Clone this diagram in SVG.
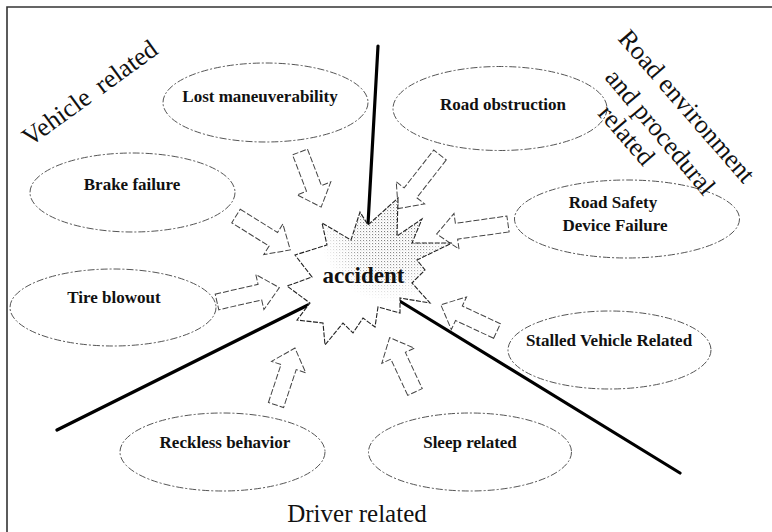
<svg xmlns="http://www.w3.org/2000/svg" width="772" height="532" viewBox="0 0 772 532">
<defs>
<radialGradient id="fade" gradientUnits="userSpaceOnUse" cx="390" cy="232" r="70">
<stop offset="0" stop-color="#fff" stop-opacity="1"/>
<stop offset="0.55" stop-color="#fff" stop-opacity="0.75"/>
<stop offset="1" stop-color="#fff" stop-opacity="0"/>
</radialGradient>
<pattern id="dots" width="3" height="3" patternUnits="userSpaceOnUse">
<rect x="0" y="0" width="1.1" height="1.1" fill="#777"/>
<rect x="1.5" y="1.5" width="0.8" height="0.8" fill="#aaa"/>
</pattern>
<mask id="stipmask" maskUnits="userSpaceOnUse" x="280" y="190" width="180" height="160">
<rect x="280" y="190" width="180" height="160" fill="url(#fade)"/>
</mask>
<style>
.ell{fill:#fff;stroke:#555;stroke-width:1;stroke-dasharray:7 2 2 2}
.arr{fill:#fff;stroke:#444;stroke-width:1;stroke-dasharray:6 2}
.lbl{font-family:"Liberation Serif","Times New Roman",serif;font-size:17px;font-weight:bold;fill:#111;text-anchor:middle}
.cat{font-family:"Liberation Serif","Times New Roman",serif;font-size:25px;fill:#111}
.thick{stroke:#000;stroke-width:3.2;stroke-linecap:round;fill:none}
</style>
</defs>
<rect width="772" height="532" fill="#fff"/>
<path d="M7,532 V7 H772" fill="none" stroke="#333" stroke-width="1.6"/>

<g id="connectors">
<line class="thick" x1="378" y1="46" x2="368" y2="224"/>
<line class="thick" x1="57" y1="430" x2="308" y2="305"/>
<line class="thick" x1="398" y1="300" x2="680" y2="473"/>
<g transform="translate(300,152) rotate(69)"><polygon class="arr" points="0,-8 39,-8 39,-18 59,0 39,18 39,8 0,8"/></g>
<g transform="translate(236,216) rotate(32)"><polygon class="arr" points="0,-8 44,-8 44,-18 64,0 44,18 44,8 0,8"/></g>
<g transform="translate(440,155) rotate(128)"><polygon class="arr" points="0,-8 48,-8 48,-18 68,0 48,18 48,8 0,8"/></g>
<g transform="translate(508,224) rotate(172)"><polygon class="arr" points="0,-8 52,-8 52,-18 72,0 52,18 52,8 0,8"/></g>
<g transform="translate(217,302) rotate(-13)"><polygon class="arr" points="0,-8 44,-8 44,-18 64,0 44,18 44,8 0,8"/></g>
<g transform="translate(497,331) rotate(205)"><polygon class="arr" points="0,-8 42,-8 42,-18 62,0 42,18 42,8 0,8"/></g>
<g transform="translate(276,405) rotate(-71.6)"><polygon class="arr" points="0,-8 40,-8 40,-18 60,0 40,18 40,8 0,8"/></g>
<g transform="translate(415,392) rotate(-115)"><polygon class="arr" points="0,-8 40,-8 40,-18 60,0 40,18 40,8 0,8"/></g>
</g>

<g id="accident">
<polygon points="398,198 397,236 422,219 412,243 452,243 417,260 425,270 412,283 430,303 400,298 400,313 378,307 375,327 363,318 353,333 343,323 325,345 323,323 297,320 310,303 287,286 312,277 295,255 327,245 322,223 351,240 360,212 368,225" fill="#fff"/>
<polygon points="398,198 397,236 422,219 412,243 452,243 417,260 425,270 412,283 430,303 400,298 400,313 378,307 375,327 363,318 353,333 343,323 325,345 323,323 297,320 310,303 287,286 312,277 295,255 327,245 322,223 351,240 360,212 368,225" fill="url(#dots)" mask="url(#stipmask)"/>
<polygon points="398,198 397,236 422,219 412,243 452,243 417,260 425,270 412,283 430,303 400,298 400,313 378,307 375,327 363,318 353,333 343,323 325,345 323,323 297,320 310,303 287,286 312,277 295,255 327,245 322,223 351,240 360,212 368,225" fill="none" stroke="#222" stroke-width="1.1" stroke-dasharray="5 1.5"/>
<text x="363.5" y="283" style="font-family:'Liberation Serif','Times New Roman',serif;font-size:23px;font-weight:bold;fill:#111;text-anchor:middle">accident</text>
</g>

<g id="lost-maneuverability"><ellipse class="ell" cx="265.5" cy="102.5" rx="102.5" ry="39.5"/><text class="lbl" x="260" y="102">Lost maneuverability</text></g>
<g id="brake-failure"><ellipse class="ell" cx="132.5" cy="192.5" rx="102.5" ry="39.5"/><text class="lbl" x="132" y="190">Brake failure</text></g>
<g id="road-obstruction"><ellipse class="ell" cx="500" cy="108.5" rx="107" ry="42"/><text class="lbl" x="503" y="110">Road obstruction</text></g>
<g id="road-safety"><ellipse class="ell" cx="627" cy="219" rx="112.5" ry="39"/><text class="lbl" x="613" y="208">Road Safety</text><text class="lbl" x="615" y="231">Device Failure</text></g>
<g id="tire-blowout"><ellipse class="ell" cx="113" cy="307.5" rx="103" ry="38.5"/><text class="lbl" x="114" y="303">Tire blowout</text></g>
<g id="stalled-vehicle"><ellipse class="ell" cx="609.5" cy="350" rx="101.5" ry="39"/><text class="lbl" x="609" y="346">Stalled Vehicle Related</text></g>
<g id="reckless-behavior"><ellipse class="ell" cx="222.5" cy="452" rx="102.5" ry="39"/><text class="lbl" x="225" y="448">Reckless behavior</text></g>
<g id="sleep-related"><ellipse class="ell" cx="470" cy="452" rx="101.5" ry="39"/><text class="lbl" x="470" y="448">Sleep related</text></g>

<g id="category-labels">
<text class="cat" transform="translate(30,147) rotate(-36)" style="font-size:26px;word-spacing:5px">Vehicle related</text>
<text class="cat" transform="translate(617,39) rotate(49)" style="font-size:26px">Road environment</text>
<text class="cat" transform="translate(604,78) rotate(50)" style="font-size:26px">and procedural</text>
<text class="cat" transform="translate(597,114) rotate(49)" style="font-size:26px">related</text>
<text class="cat" x="357" y="522" text-anchor="middle">Driver related</text>
</g>
</svg>
